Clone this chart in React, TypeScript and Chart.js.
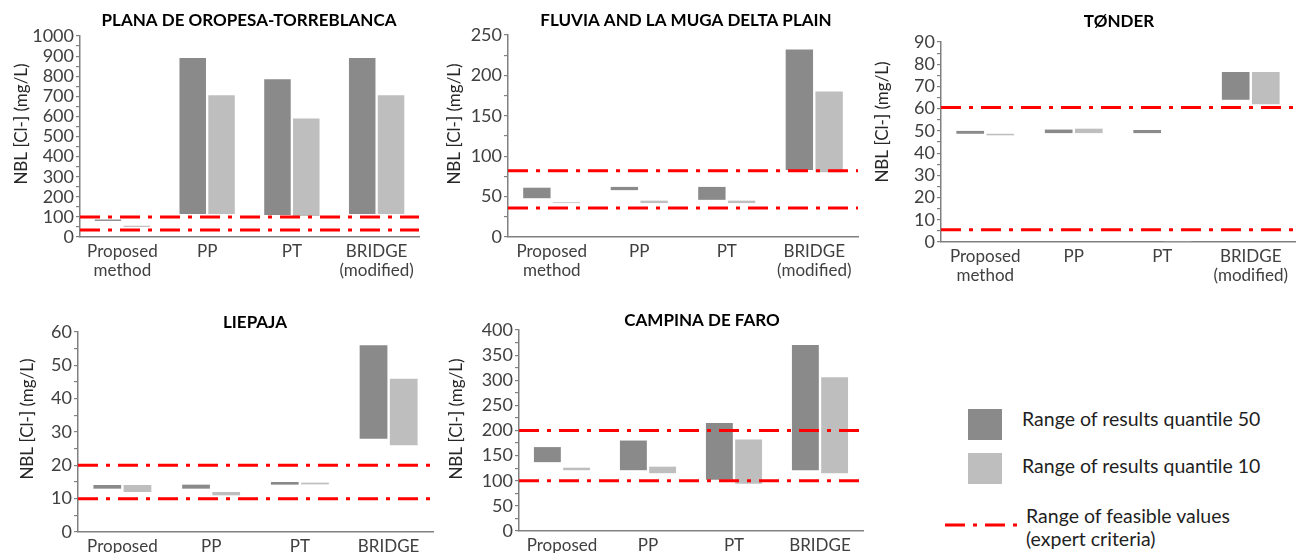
import React, { useEffect, useRef } from 'react';
import { Chart, registerables } from 'chart.js';

Chart.register(...registerables);

const FONT = 'Lato, "Open Sans", sans-serif';

// ---------- data ----------
const categories: (string | string[])[] = [['Proposed', 'method'], 'PP', 'PT', ['BRIDGE', '(modified)']];

const seriesNames = ['Range of results quantile 50', 'Range of results quantile 10', 'Range of feasible values (expert criteria)'];

// PLANA DE OROPESA-TORREBLANCA
const planaQ50: [number, number][] = [[80, 87], [115, 890], [110, 785], [115, 890]];
const planaQ10: [number, number][] = [[50, 56], [115, 705], [105, 590], [115, 705]];
const planaFeasible = [35, 100];
const planaTicks = { max: 1000, major: 100, minor: 50 };

// FLUVIA AND LA MUGA DELTA PLAIN
const fluviaQ50: [number, number][] = [[48, 61], [58, 62], [46, 62], [83, 232]];
const fluviaQ10: [number, number][] = [[42, 43], [42, 45], [42, 45], [80, 180]];
const fluviaFeasible = [36, 82];
const fluviaTicks = { max: 250, major: 50, minor: 25 };

// TØNDER
const tonderQ50: [number, number][] = [[48.7, 50], [49, 50.6], [49, 50.4], [64, 76.5]];
const tonderQ10: [number, number][] = [[48, 48.7], [49, 51], [0, 0.4], [62, 76.5]];
const tonderFeasible = [5.5, 60.5];
const tonderTicks = { max: 90, major: 10, minor: 5 };

// LIEPAJA
const liepajaQ50: [number, number][] = [[13, 14.1], [13, 14.2], [14.2, 15], [28, 56]];
const liepajaQ10: [number, number][] = [[12, 14.1], [11, 12], [14.3, 14.8], [26, 46]];
const liepajaFeasible = [10, 20];
const liepajaTicks = { max: 60, major: 10, minor: 5 };

// CAMPINA DE FARO
const campinaQ50: [number, number][] = [[137, 167], [121, 180], [102, 215], [121, 370]];
const campinaQ10: [number, number][] = [[121, 126], [115, 128], [94, 182], [115, 306]];
const campinaFeasible = [100, 200];
const campinaTicks = { max: 400, major: 50, minor: 25 };

const yAxisTitle = 'NBL [Cl-] (mg/L)';

// ---------- styles ----------
const DARK = '#8a8a8a';
const LIGHT = '#bebebe';
const RED = '#ff0000';
const AXIS = '#808080';

type Box = { l: number; t: number; r: number; b: number; titleX: number; titleY: number; yTitleX: number; yTitleY: number };

const planaBox: Box = { l: 80, t: 36, r: 419, b: 237, titleX: 249, titleY: 21, yTitleX: 22, yTitleY: 124 };
const fluviaBox: Box = { l: 508, t: 35, r: 858, b: 237, titleX: 686, titleY: 21, yTitleX: 455, yTitleY: 124 };
const tonderBox: Box = { l: 941, t: 42, r: 1295, b: 242, titleX: 1119, titleY: 22, yTitleX: 883, yTitleY: 122 };
const liepajaBox: Box = { l: 78, t: 332, r: 433, b: 532, titleX: 255, titleY: 323, yTitleX: 28, yTitleY: 419 };
const campinaBox: Box = { l: 519, t: 330, r: 863, b: 531, titleX: 702, titleY: 321, yTitleX: 457, yTitleY: 419 };

const Y_W = 80;
const PAD_T = 45;
const PAD_R = 4;
const X_H = 60;

const panelTextPlugin = {
  id: 'panelText',
  afterDraw(chart: any, _args: any, opts: any) {
    const ctx = chart.ctx as CanvasRenderingContext2D;
    ctx.save();
    ctx.fillStyle = '#000000';
    ctx.textAlign = 'center';
    ctx.textBaseline = 'middle';
    ctx.font = `bold 17px ${FONT}`;
    ctx.fillText(opts.title, opts.titleX, opts.titleY);
    ctx.translate(opts.yTitleX, opts.yTitleY);
    ctx.rotate(-Math.PI / 2);
    ctx.fillStyle = '#262626';
    ctx.font = `17px ${FONT}`;
    ctx.fillText(opts.yTitle, 0, 0);
    ctx.restore();
  },
};

type PanelProps = {
  title: string;
  q50: [number, number][];
  q10: [number, number][];
  feasible: number[];
  ticks: { max: number; major: number; minor: number };
  box: Box;
};

function Panel({ title, q50, q10, feasible, ticks, box }: PanelProps) {
  const barRef = useRef<HTMLCanvasElement>(null);
  const lineRef = useRef<HTMLCanvasElement>(null);
  const left = box.l - Y_W;
  const top = box.t - PAD_T;
  const width = box.r - box.l + Y_W + PAD_R;
  const height = box.b - box.t + PAD_T + X_H;

  useEffect(() => {
    const barCanvas = barRef.current;
    const lineCanvas = lineRef.current;
    if (!barCanvas || !lineCanvas) return;

    // Bars (range of results)
    const barChart = new Chart(barCanvas, {
      type: 'bar',
      data: {
        labels: categories as any,
        datasets: [
          {
            label: seriesNames[0],
            data: q50 as any,
            backgroundColor: DARK,
            categoryPercentage: 0.68,
            barPercentage: 0.92,
          },
          {
            label: seriesNames[1],
            data: q10 as any,
            backgroundColor: LIGHT,
            categoryPercentage: 0.68,
            barPercentage: 0.92,
          },
        ],
      },
      options: {
        responsive: false,
        animation: false,
        devicePixelRatio: 1,
        layout: { padding: { top: PAD_T, right: PAD_R, left: 0, bottom: 0 } },
        plugins: {
          legend: { display: false },
          tooltip: { enabled: false },
          title: { display: false },
          panelText: {
            title,
            titleX: box.titleX - left,
            titleY: box.titleY - top,
            yTitle: yAxisTitle,
            yTitleX: box.yTitleX - left,
            yTitleY: box.yTitleY - top,
          },
        } as any,
        scales: {
          x: {
            type: 'category',
            offset: true,
            grid: { display: false, drawTicks: false },
            border: { display: true, color: AXIS, width: 1.5 },
            ticks: {
              color: '#404040',
              font: { family: FONT, size: 17, lineHeight: 1.1 },
              padding: 5,
              maxRotation: 0,
              autoSkip: false,
            },
            afterFit: (s: any) => {
              s.height = X_H;
            },
          },
          y: {
            type: 'linear',
            min: 0,
            max: ticks.max,
            grid: { drawOnChartArea: false, drawTicks: true, tickLength: 4, color: AXIS, lineWidth: 1.2 },
            border: { display: true, color: AXIS, width: 1.5 },
            ticks: {
              stepSize: ticks.minor,
              maxTicksLimit: 1000,
              autoSkip: false,
              color: '#404040',
              font: { family: FONT, size: 18 },
              padding: 2,
              callback: (v: any) => (Math.abs(Number(v) % ticks.major) < 1e-9 ? String(v) : ''),
            },
            afterFit: (s: any) => {
              s.width = Y_W;
            },
          },
        },
      },
      plugins: [panelTextPlugin as any],
    });

    // Overlay: range of feasible values (same chart area, hidden axes)
    const redLine = (v: number) => ({
      label: seriesNames[2],
      data: [{ x: 0, y: v }, { x: 1, y: v }],
      borderColor: RED,
      backgroundColor: RED,
      borderWidth: 3,
      borderDash: [20, 8, 4, 8],
      borderCapStyle: 'butt' as const,
      pointRadius: 0,
      fill: false,
    });
    const lineChart = new Chart(lineCanvas, {
      type: 'line',
      data: { datasets: [redLine(feasible[0]) as any, redLine(feasible[1]) as any] },
      options: {
        responsive: false,
        animation: false,
        devicePixelRatio: 1,
        layout: { padding: { top: PAD_T, right: PAD_R, left: Y_W, bottom: X_H } },
        plugins: { legend: { display: false }, tooltip: { enabled: false } },
        scales: {
          x: { type: 'linear', min: 0, max: 1, display: false },
          y: { type: 'linear', min: 0, max: ticks.max, display: false },
        },
      },
    });

    return () => {
      barChart.destroy();
      lineChart.destroy();
    };
  }, []);

  const style: React.CSSProperties = { position: 'absolute', left, top, width, height };
  return (
    <>
      <canvas ref={barRef} width={width} height={height} style={style} />
      <canvas ref={lineRef} width={width} height={height} style={style} />
    </>
  );
}

const legendText: React.CSSProperties = {
  position: 'absolute',
  fontFamily: FONT,
  fontSize: 19.5,
  lineHeight: '20px',
  color: '#1f1f1f',
  whiteSpace: 'nowrap',
};

export default function App() {
  return (
    <div
      style={{
        position: 'fixed',
        left: 0,
        top: 0,
        width: 1299,
        height: 553,
        overflow: 'hidden',
        background: '#ffffff',
      }}
    >
      <Panel title="PLANA DE OROPESA-TORREBLANCA" q50={planaQ50} q10={planaQ10} feasible={planaFeasible} ticks={planaTicks} box={planaBox} />
      <Panel title="FLUVIA AND LA MUGA DELTA PLAIN" q50={fluviaQ50} q10={fluviaQ10} feasible={fluviaFeasible} ticks={fluviaTicks} box={fluviaBox} />
      <Panel title="TØNDER" q50={tonderQ50} q10={tonderQ10} feasible={tonderFeasible} ticks={tonderTicks} box={tonderBox} />
      <Panel title="LIEPAJA" q50={liepajaQ50} q10={liepajaQ10} feasible={liepajaFeasible} ticks={liepajaTicks} box={liepajaBox} />
      <Panel title="CAMPINA DE FARO" q50={campinaQ50} q10={campinaQ10} feasible={campinaFeasible} ticks={campinaTicks} box={campinaBox} />

      {/* legend */}
      <div style={{ position: 'absolute', left: 968, top: 409, width: 34, height: 31, background: DARK }} />
      <div style={{ ...legendText, left: 1022, top: 409 }}>{seriesNames[0]}</div>
      <div style={{ position: 'absolute', left: 968, top: 453, width: 34, height: 31, background: LIGHT }} />
      <div style={{ ...legendText, left: 1022, top: 456 }}>{seriesNames[1]}</div>
      <svg style={{ position: 'absolute', left: 945, top: 520 }} width={72} height={10}>
        <line x1={0} y1={5} x2={72} y2={5} stroke={RED} strokeWidth={3} strokeDasharray="20 8 4 8" />
      </svg>
      <div style={{ ...legendText, left: 1026, top: 504, lineHeight: '23px' }}>
        Range of feasible values
        <br />
        (expert criteria)
      </div>
    </div>
  );
}
